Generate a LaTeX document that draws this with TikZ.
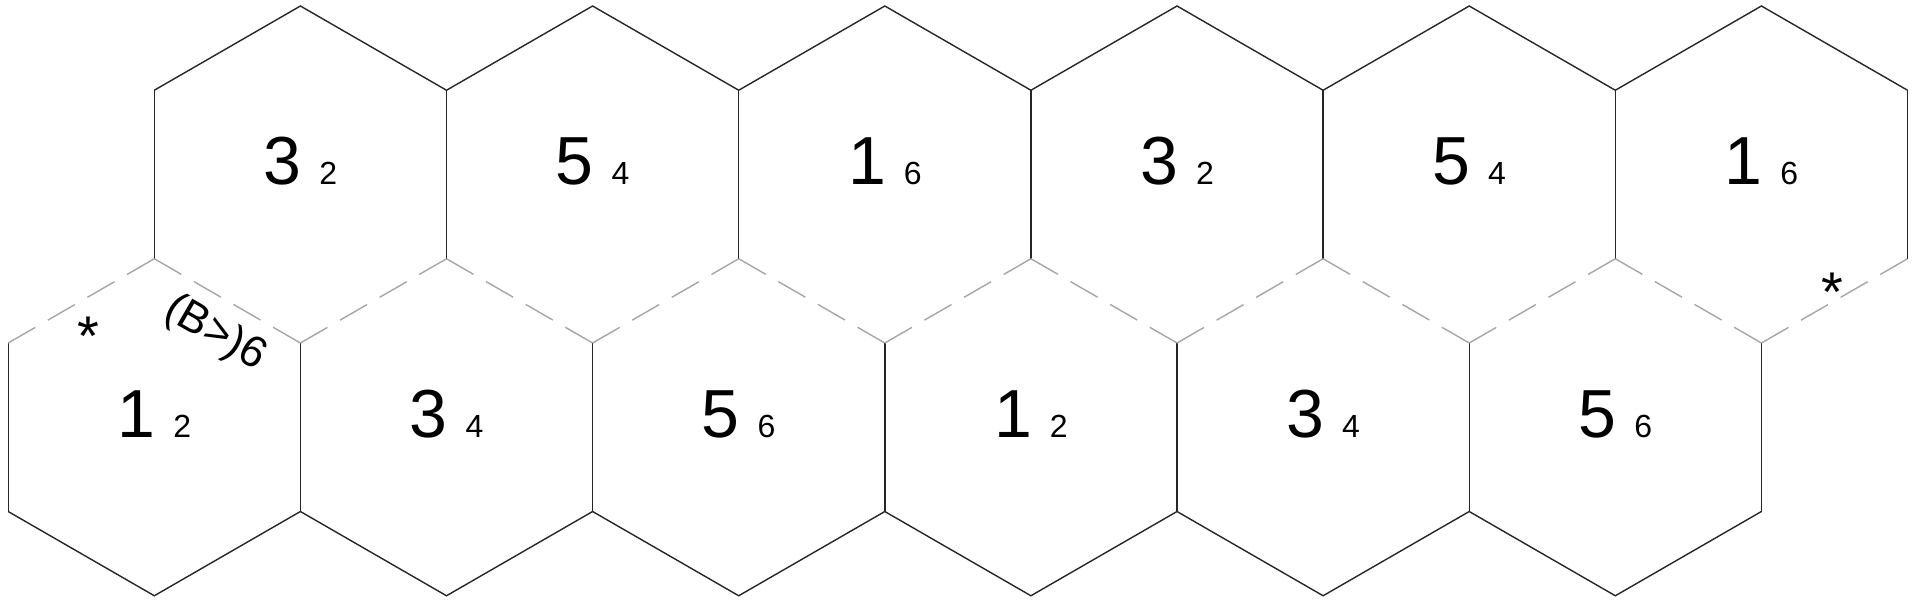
\documentclass[tikz,border=0pt]{standalone}
\usepackage{fontspec}
\setmainfont{Liberation Sans}
\newcommand{\hexlab}[2]{#1\hspace{4.5pt}{\fontsize{8}{8}\selectfont #2}}

\begin{document}
\begin{tikzpicture}[x=0.25pt,y=-0.25pt]
  \tikzstyle{wall}=[draw=black!85, line width=0.35pt]
  \tikzstyle{seam}=[draw=black!35, line width=0.35pt, dash pattern=on 7.8pt off 3.63pt]
  \tikzstyle{num}=[font=\fontsize{17}{17}\selectfont, anchor=base, inner sep=0pt]
  \tikzstyle{note}=[font=\fontsize{11}{11}\selectfont, inner sep=0pt]
  \tikzstyle{star}=[font=\fontsize{14}{14}\selectfont, inner sep=0pt, anchor=north]

  \useasboundingbox (0,0) rectangle (1912,599);

  % corners, row by row
  \coordinate (a2) at (300.4,6);  \coordinate (a4) at (592.6,6);   \coordinate (a6) at (884.8,6);
  \coordinate (a8) at (1177.0,6); \coordinate (a10) at (1469.2,6); \coordinate (a12) at (1761.4,6);

  \coordinate (b1) at (154.3,90.25);  \coordinate (b3) at (446.5,90.25);   \coordinate (b5) at (738.7,90.25);
  \coordinate (b7) at (1030.9,90.25); \coordinate (b9) at (1323.1,90.25);  \coordinate (b11) at (1615.3,90.25);
  \coordinate (b13) at (1907.5,90.25);

  \coordinate (c1) at (154.3,258.75);  \coordinate (c3) at (446.5,258.75);  \coordinate (c5) at (738.7,258.75);
  \coordinate (c7) at (1030.9,258.75); \coordinate (c9) at (1323.1,258.75); \coordinate (c11) at (1615.3,258.75);
  \coordinate (c13) at (1907.5,258.75);

  \coordinate (d0) at (8.2,343);    \coordinate (d2) at (300.4,343);   \coordinate (d4) at (592.6,343);
  \coordinate (d6) at (884.8,343);  \coordinate (d8) at (1177.0,343);  \coordinate (d10) at (1469.2,343);
  \coordinate (d12) at (1761.4,343);

  \coordinate (e0) at (8.2,511.5);   \coordinate (e2) at (300.4,511.5);  \coordinate (e4) at (592.6,511.5);
  \coordinate (e6) at (884.8,511.5); \coordinate (e8) at (1177.0,511.5); \coordinate (e10) at (1469.2,511.5);
  \coordinate (e12) at (1761.4,511.5);

  \coordinate (f1) at (154.3,595.75);  \coordinate (f3) at (446.5,595.75);  \coordinate (f5) at (738.7,595.75);
  \coordinate (f7) at (1030.9,595.75); \coordinate (f9) at (1323.1,595.75); \coordinate (f11) at (1615.3,595.75);

  % outline
  \draw[wall] (b1) -- (a2) -- (b3) -- (a4) -- (b5) -- (a6) -- (b7) -- (a8) -- (b9) -- (a10) -- (b11) -- (a12) -- (b13);
  \draw[wall] (b1) -- (c1) (b3) -- (c3) (b5) -- (c5) (b7) -- (c7) (b9) -- (c9) (b11) -- (c11) (b13) -- (c13);
  \draw[wall] (d0) -- (e0) (d2) -- (e2) (d4) -- (e4) (d6) -- (e6) (d8) -- (e8) (d10) -- (e10) (d12) -- (e12);
  \draw[wall] (e0) -- (f1) -- (e2) -- (f3) -- (e4) -- (f5) -- (e6) -- (f7) -- (e8) -- (f9) -- (e10) -- (f11) -- (e12);

  % seam between the rows
  \draw[seam] (d0) -- (c1) (c1) -- (d2) (d2) -- (c3) (c3) -- (d4) (d4) -- (c5) (c5) -- (d6) (d6) -- (c7)
              (c7) -- (d8) (d8) -- (c9) (c9) -- (d10) (d10) -- (c11) (c11) -- (d12) (d12) -- (c13);

  \node[num] (top1) at (300.4,184.5)  {\hexlab{3}{2}};
  \node[num] (top2) at (592.6,184.5)  {\hexlab{5}{4}};
  \node[num] (top3) at (884.8,184.5)  {\hexlab{1}{6}};
  \node[num] (top4) at (1177.0,184.5) {\hexlab{3}{2}};
  \node[num] (top5) at (1469.2,184.5) {\hexlab{5}{4}};
  \node[num] (top6) at (1761.4,184.5) {\hexlab{1}{6}};

  \node[num] (bot1) at (154.3,437.75)  {\hexlab{1}{2}};
  \node[num] (bot2) at (446.5,437.75)  {\hexlab{3}{4}};
  \node[num] (bot3) at (738.7,437.75)  {\hexlab{5}{6}};
  \node[num] (bot4) at (1030.9,437.75) {\hexlab{1}{2}};
  \node[num] (bot5) at (1323.1,437.75) {\hexlab{3}{4}};
  \node[num] (bot6) at (1615.3,437.75) {\hexlab{5}{6}};

  \node[note, rotate=-30] (rule) at (215,334) {(B>)6};
  \node[star] (star1) at (88.3,316) {*};
  \node[star] (star2) at (1832.5,272) {*};
\end{tikzpicture}
\end{document}
